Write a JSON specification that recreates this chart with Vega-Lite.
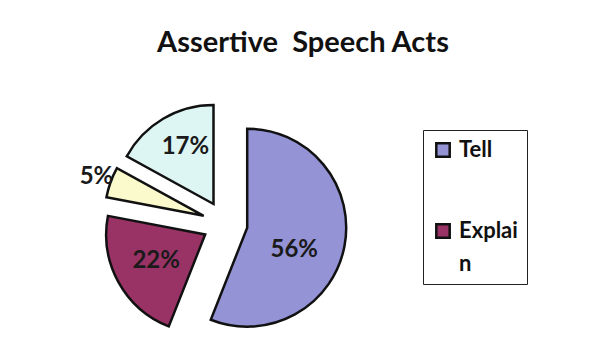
{
  "$schema": "https://vega.github.io/schema/vega-lite/v6.json",
  "width": 450,
  "height": 261,
  "autosize": {"type": "none"},
  "padding": {"left": 0, "top": 93, "right": 141, "bottom": 0},
  "background": "white",
  "title": {
    "text": "Assertive\u00a0 Speech Acts",
    "font": "Lato",
    "fontSize": 29,
    "fontWeight": "bold",
    "color": "#111111",
    "anchor": "middle",
    "baseline": "alphabetic",
    "offset": 12,
    "dx": 78
  },
  "data": {
    "values": [
      {"cat": "Tell", "value": 56, "label": "56%", "ord": 1},
      {"cat": "Explain", "value": 22, "label": "22%", "ord": 2},
      {"cat": "Other 1", "value": 5, "label": "5%", "ord": 3},
      {"cat": "Other 2", "value": 17, "label": "17%", "ord": 4}
    ]
  },
  "encoding": {
    "theta": {"field": "value", "type": "quantitative", "stack": true},
    "order": {"field": "ord", "type": "quantitative"}
  },
  "layer": [
    {
      "mark": {"type": "arc", "outerRadius": 99, "stroke": "#111111", "strokeWidth": 2.5, "strokeJoin": "miter", "xOffset": 22.2, "yOffset": 4.2},
      "encoding": {
        "color": {"field": "cat", "type": "nominal", "scale": {"domain": ["Tell", "Explain", "Other 1", "Other 2"], "range": ["#9393D6", "#993366", "#FAFACC", "#DDF5F3"]}, "legend": {"values": ["Tell", "Explain"], "title": null, "orient": "none", "legendX": 423, "legendY": 37, "labelExpr": "datum.label === 'Explain' ? ['Explai', 'n'] : datum.label", "encode": {"labels": {"enter": {"lineHeight": {"value": 33}}, "update": {"lineHeight": {"value": 33}}}}}},
        "opacity": {"condition": {"test": "datum.cat === 'Tell'", "value": 1}, "value": 0}
      }
    },
    {
      "mark": {"type": "arc", "outerRadius": 99, "stroke": "#111111", "strokeWidth": 2.5, "strokeJoin": "miter", "xOffset": -19.8, "yOffset": 10.9},
      "encoding": {
        "color": {"field": "cat", "type": "nominal"},
        "opacity": {"condition": {"test": "datum.cat === 'Explain'", "value": 1}, "value": 0}
      }
    },
    {
      "mark": {"type": "arc", "outerRadius": 99, "stroke": "#111111", "strokeWidth": 2.5, "strokeJoin": "miter", "xOffset": -21.3, "yOffset": -7.7},
      "encoding": {
        "color": {"field": "cat", "type": "nominal"},
        "opacity": {"condition": {"test": "datum.cat === 'Other 1'", "value": 1}, "value": 0}
      }
    },
    {
      "mark": {"type": "arc", "outerRadius": 99, "stroke": "#111111", "strokeWidth": 2.5, "strokeJoin": "miter", "xOffset": -11.5, "yOffset": -19.5},
      "encoding": {
        "color": {"field": "cat", "type": "nominal"},
        "opacity": {"condition": {"test": "datum.cat === 'Other 2'", "value": 1}, "value": 0}
      }
    },
    {
      "mark": {"type": "text", "radius": 52, "xOffset": 22.2, "yOffset": 4.2, "dx": -4, "dy": 13, "font": "Lato", "fontSize": 24, "fontWeight": "bold", "fill": "#1a1a1a", "align": "center", "baseline": "middle"},
      "encoding": {
        "text": {"field": "label"},
        "opacity": {"condition": {"test": "datum.cat === 'Tell'", "value": 1}, "value": 0}
      }
    },
    {
      "mark": {"type": "text", "radius": 56, "xOffset": -19.8, "yOffset": 10.9, "font": "Lato", "fontSize": 24, "fontWeight": "bold", "fill": "#1a1a1a", "align": "center", "baseline": "middle"},
      "encoding": {
        "text": {"field": "label"},
        "opacity": {"condition": {"test": "datum.cat === 'Explain'", "value": 1}, "value": 0}
      }
    },
    {
      "mark": {"type": "text", "radius": 114, "xOffset": -21.3, "yOffset": -7.7, "font": "Lato", "fontSize": 24, "fontWeight": "bold", "fill": "#1a1a1a", "align": "center", "baseline": "middle"},
      "encoding": {
        "text": {"field": "label"},
        "opacity": {"condition": {"test": "datum.cat === 'Other 1'", "value": 1}, "value": 0}
      }
    },
    {
      "mark": {"type": "text", "radius": 63, "xOffset": -11.5, "yOffset": -19.5, "dx": 4, "dy": -3, "font": "Lato", "fontSize": 24, "fontWeight": "bold", "fill": "#1a1a1a", "align": "center", "baseline": "middle"},
      "encoding": {
        "text": {"field": "label"},
        "opacity": {"condition": {"test": "datum.cat === 'Other 2'", "value": 1}, "value": 0}
      }
    }
  ],
  "config": {
    "view": {"stroke": null},
    "style": {"guide-label": {"lineHeight": 33}},
    "legend": {
      "symbolType": "square",
      "symbolSize": 180,
      "symbolStrokeWidth": 2.5,
      "symbolStrokeColor": "#111111",
      "labelFont": "Lato",
      "labelFontSize": 22,
      "labelFontWeight": "bold",
      "labelColor": "#111111",
      "strokeColor": "#222222",
      "strokeWidth": 1,
      "padding": 9,
      "rowPadding": 57,
      "labelOffset": 5
    }
  }
}
